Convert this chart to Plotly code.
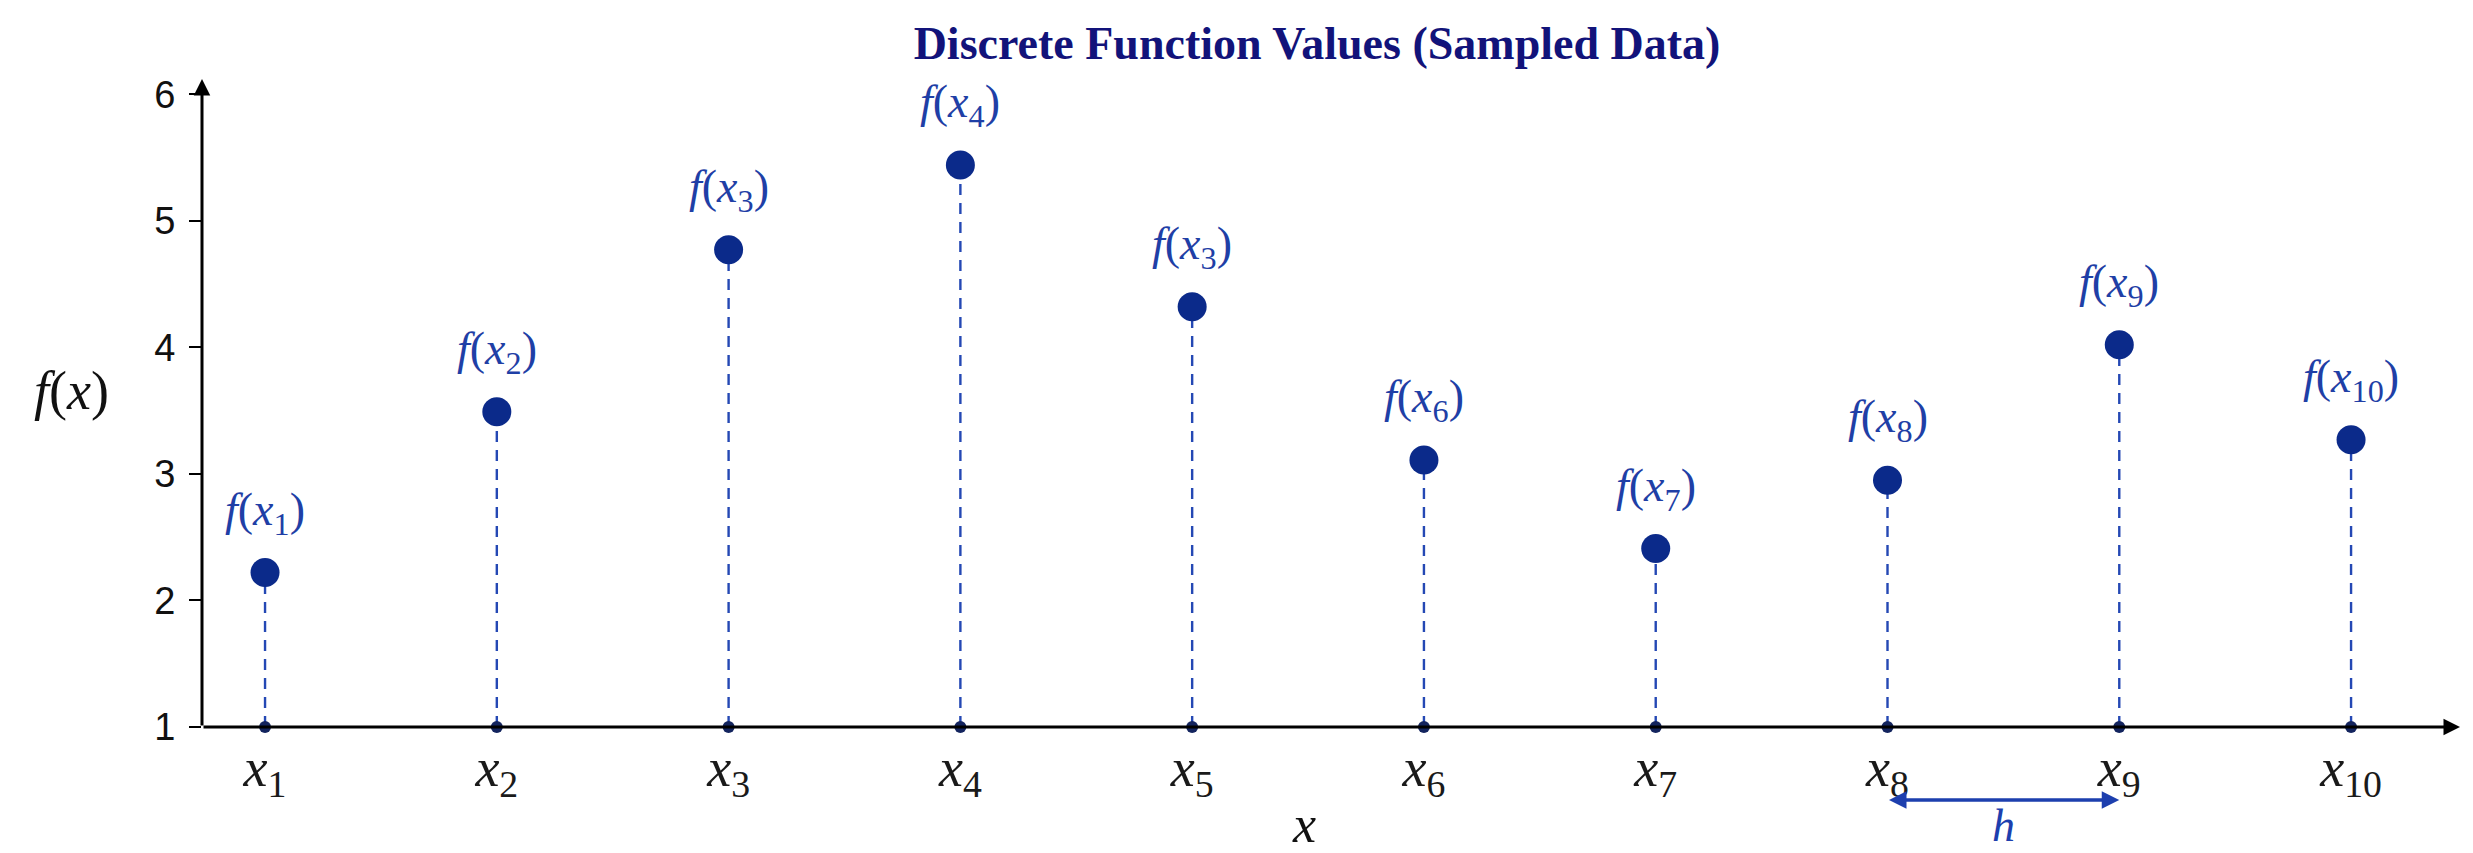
import plotly.graph_objects as go

# ---- data ----
x_index = [1, 2, 3, 4, 5, 6, 7, 8, 9, 10]
f_values = [2.22, 3.49, 4.77, 5.44, 4.32, 3.11, 2.41, 2.95, 4.02, 3.27]
x_tick_labels = ["<i>x</i><sub>%d</sub>" % i for i in [1, 2, 3, 4, 5, 6, 7, 8, 9, 10]]
point_labels = [
    "<i>f</i>(<i>x</i><sub>1</sub>)",
    "<i>f</i>(<i>x</i><sub>2</sub>)",
    "<i>f</i>(<i>x</i><sub>3</sub>)",
    "<i>f</i>(<i>x</i><sub>4</sub>)",
    "<i>f</i>(<i>x</i><sub>3</sub>)",
    "<i>f</i>(<i>x</i><sub>6</sub>)",
    "<i>f</i>(<i>x</i><sub>7</sub>)",
    "<i>f</i>(<i>x</i><sub>8</sub>)",
    "<i>f</i>(<i>x</i><sub>9</sub>)",
    "<i>f</i>(<i>x</i><sub>10</sub>)",
]
y_ticks = [1, 2, 3, 4, 5, 6]
h_span = [8, 9]

X_MIN, X_MAX = 0.728, 10.47
Y_MIN, Y_MAX = 1.0, 6.12

W, H = 2473, 853
ML, MR, MT, MB = 194, 21, 71, 134
PW, PH = W - ML - MR, H - MT - MB


def px_to_paper(px, py):
    return (px - ML) / PW, (H - MB - py) / PH


MARK = "#0b2a8a"
STEM = "#2448b4"
LABEL = "#1f3fa6"
TITLE = "#12137a"
SERIF = "Liberation Serif, Times New Roman, serif"
SANS = "Liberation Sans, Arial, sans-serif"

fig = go.Figure()

# dashed stems
for xi, yi in zip(x_index, f_values):
    fig.add_trace(go.Scatter(
        x=[xi, xi], y=[Y_MIN, yi], mode="lines",
        line=dict(color=STEM, width=2.4, dash="11px,8px"),
        hoverinfo="skip", showlegend=False))

# small dots on axis
fig.add_trace(go.Scatter(
    x=x_index, y=[Y_MIN] * len(x_index), mode="markers",
    marker=dict(color="#13245e", size=12), cliponaxis=False,
    hoverinfo="skip", showlegend=False))

# sample points
fig.add_trace(go.Scatter(
    x=x_index, y=f_values, mode="markers",
    marker=dict(color=MARK, size=29), cliponaxis=False,
    showlegend=False))

annotations = []
for xi, yi, lab in zip(x_index, f_values, point_labels):
    annotations.append(dict(
        x=xi, y=yi, xref="x", yref="y", text=lab, showarrow=False,
        yshift=60, font=dict(family=SERIF, size=46, color=LABEL)))

# axes with arrowheads
annotations.append(dict(
    x=X_MAX, y=Y_MIN, ax=X_MIN, ay=Y_MIN, xref="x", yref="y",
    axref="x", ayref="y", text="", showarrow=True,
    arrowhead=2, arrowsize=1.1, arrowwidth=3, arrowcolor="#000000"))
annotations.append(dict(
    x=X_MIN, y=Y_MAX, ax=X_MIN, ay=Y_MIN, xref="x", yref="y",
    axref="x", ayref="y", text="", showarrow=True,
    arrowhead=2, arrowsize=1.1, arrowwidth=3, arrowcolor="#000000"))

# h arrow between x8 and x9 (length from the x scale)
unit_px = PW / (X_MAX - X_MIN)
_, h_y = px_to_paper(0, 792)
annotations.append(dict(
    x=h_span[1], y=h_y, xref="x", yref="paper",
    axref="pixel", ayref="pixel", ax=-(h_span[1] - h_span[0]) * unit_px, ay=0,
    text="", showarrow=True,
    arrowhead=2, startarrowhead=2, arrowside="end+start",
    arrowsize=1.0, startarrowsize=1.0, arrowwidth=3.5, arrowcolor="#1d3fae"))
_, h_ty = px_to_paper(0, 817)
annotations.append(dict(
    x=(h_span[0] + h_span[1]) / 2, y=h_ty, xref="x", yref="paper",
    yanchor="middle", text="<i>h</i>", showarrow=False,
    font=dict(family=SERIF, size=46, color="#1d3fae")))

# axis titles
fx_x, fx_y = px_to_paper(63, 383)
annotations.append(dict(
    x=fx_x, y=fx_y, xref="paper", yref="paper", xanchor="center", yanchor="middle",
    text="<i>f</i>(<i>x</i>)", showarrow=False,
    font=dict(family=SERIF, size=54, color="#111111")))
xt_x, xt_y = px_to_paper(1296, 816)
annotations.append(dict(
    x=xt_x, y=xt_y, xref="paper", yref="paper", xanchor="center", yanchor="middle",
    text="<i>x</i>", showarrow=False,
    font=dict(family=SERIF, size=52, color="#111111")))

fig.update_layout(
    width=W, height=H,
    paper_bgcolor="white", plot_bgcolor="white",
    margin=dict(l=ML, r=MR, t=MT, b=MB),
    title=dict(
        text="<b>Discrete Function Values (Sampled Data)</b>",
        x=1309 / W, xref="container", xanchor="center",
        y=1 - 35 / H, yref="container", yanchor="middle",
        font=dict(family=SERIF, size=46, color=TITLE)),
    annotations=annotations,
    showlegend=False,
)
fig.update_xaxes(
    range=[X_MIN, X_MAX], tickvals=x_index, ticktext=x_tick_labels,
    showgrid=False, zeroline=False, showline=False, ticks="",
    ticklabelstandoff=4,
    tickfont=dict(family=SERIF, size=54, color="#1a1a1a"))
fig.update_yaxes(
    range=[Y_MIN, Y_MAX], tickvals=y_ticks,
    showgrid=False, zeroline=False, showline=False,
    ticks="outside", ticklen=12, tickwidth=2, tickcolor="#000000",
    ticklabelstandoff=6,
    tickfont=dict(family=SANS, size=38, color="#111111"))

fig.write_html("out.html")
